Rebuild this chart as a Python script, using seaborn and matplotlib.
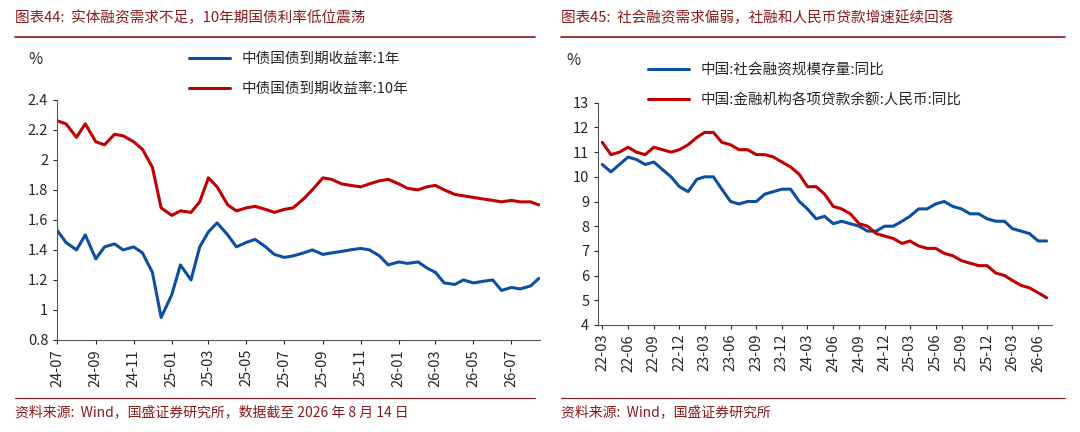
import matplotlib
matplotlib.use("Agg")
import matplotlib.pyplot as plt
import matplotlib.dates as mdates
import seaborn as sns
import pandas as pd

sns.set_style("white")
plt.rcParams["font.family"] = ["Noto Sans CJK SC", "DejaVu Sans"]
plt.rcParams["axes.unicode_minus"] = False

# ── DATA ─────────────────────────────────────────────────────────────────────
# left: semi-monthly readings, 2024-07-01 .. 2026-08-01, plus 2026-08-14
left_dates = list(pd.date_range("2024-07-01", "2026-08-01", freq="SMS")) + [pd.Timestamp("2026-08-14")]
y1 = [1.53, 1.45, 1.40, 1.50, 1.34, 1.42, 1.44, 1.40, 1.42, 1.38, 1.25, 0.95,
      1.10, 1.30, 1.20, 1.42, 1.52, 1.58, 1.50, 1.42, 1.45, 1.47, 1.42, 1.37,
      1.35, 1.36, 1.38, 1.40, 1.37, 1.38, 1.39, 1.40, 1.41, 1.40, 1.36, 1.30,
      1.32, 1.31, 1.32, 1.28, 1.25, 1.18, 1.17, 1.20, 1.18, 1.19, 1.20, 1.13,
      1.15, 1.14, 1.16, 1.21]
y10 = [2.26, 2.24, 2.15, 2.24, 2.12, 2.10, 2.17, 2.16, 2.12, 2.07, 1.95, 1.68,
       1.63, 1.66, 1.65, 1.72, 1.88, 1.82, 1.70, 1.66, 1.68, 1.69, 1.67, 1.65,
       1.67, 1.68, 1.74, 1.80, 1.88, 1.87, 1.84, 1.83, 1.82, 1.84, 1.86, 1.87,
       1.84, 1.81, 1.80, 1.82, 1.83, 1.80, 1.77, 1.76, 1.75, 1.74, 1.73, 1.72,
       1.73, 1.72, 1.72, 1.70]

# right: monthly 2022-03 .. 2026-07
right_dates = pd.date_range("2022-03-01", "2026-07-01", freq="MS")
tsf = [10.5, 10.2, 10.5, 10.8, 10.7, 10.5, 10.6, 10.3, 10.0, 9.6,
       9.4, 9.9, 10.0, 10.0, 9.5, 9.0, 8.9, 9.0, 9.0, 9.3, 9.4, 9.5,
       9.5, 9.0, 8.7, 8.3, 8.4, 8.1, 8.2, 8.1, 8.0, 7.8, 7.8, 8.0,
       8.0, 8.2, 8.4, 8.7, 8.7, 8.9, 9.0, 8.8, 8.7, 8.5, 8.5, 8.3,
       8.2, 8.2, 7.9, 7.8, 7.7, 7.4, 7.4]
loan = [11.4, 10.9, 11.0, 11.2, 11.0, 10.9, 11.2, 11.1, 11.0, 11.1,
        11.3, 11.6, 11.8, 11.8, 11.4, 11.3, 11.1, 11.1, 10.9, 10.9, 10.8, 10.6,
        10.4, 10.1, 9.6, 9.6, 9.3, 8.8, 8.7, 8.5, 8.1, 8.0, 7.7, 7.6,
        7.5, 7.3, 7.4, 7.2, 7.1, 7.1, 6.9, 6.8, 6.6, 6.5, 6.4, 6.4,
        6.1, 6.0, 5.8, 5.6, 5.5, 5.3, 5.1]

BLUE = "#0b4ea2"
RED = "#c00000"
TITLE_C = "#8b1a1a"

fig = plt.figure(figsize=(10.8, 4.32), dpi=100)

# titles, rules, sources
for x0, x1, title, src in [
    (0.014, 0.495, "图表44:  实体融资需求不足，10年期国债利率低位震荡", "资料来源:  Wind，国盛证券研究所，数据截至 2026 年 8 月 14 日"),
    (0.519, 0.986, "图表45:  社会融资需求偏弱，社融和人民币贷款增速延续回落", "资料来源:  Wind，国盛证券研究所"),
]:
    fig.text(x0, 0.96, title, color=TITLE_C, fontsize=10.5, style="italic", va="center")
    fig.add_artist(plt.Line2D([x0, x1], [0.915, 0.915], color=TITLE_C, lw=1.2))
    fig.add_artist(plt.Line2D([x0, x1], [0.078, 0.078], color=TITLE_C, lw=0.8))
    fig.text(x0, 0.045, src, color=TITLE_C, fontsize=10, style="italic", va="center")

# ── LEFT ─────────────────────────────────────────────────────────────────────
ax1 = fig.add_axes([0.053, 0.213, 0.447, 0.556])
df_l = pd.DataFrame({"date": left_dates, "y1": y1, "y10": y10})
sns.lineplot(data=df_l, x="date", y="y1", ax=ax1, color=BLUE, lw=2.2, label="中债国债到期收益率:1年")
sns.lineplot(data=df_l, x="date", y="y10", ax=ax1, color=RED, lw=2.2, label="中债国债到期收益率:10年")
ax1.set_ylim(0.8, 2.4)
ax1.set_yticks([0.8, 1, 1.2, 1.4, 1.6, 1.8, 2, 2.2, 2.4])
ax1.set_yticklabels(["0.8", "1", "1.2", "1.4", "1.6", "1.8", "2", "2.2", "2.4"])
ax1.set_xlim(pd.Timestamp("2024-07-01"), pd.Timestamp("2026-08-16"))
ax1.xaxis.set_major_locator(mdates.MonthLocator(bymonth=[1, 3, 5, 7, 9, 11]))
ax1.xaxis.set_major_formatter(mdates.DateFormatter("%y-%m"))
ax1.legend(loc="lower center", bbox_to_anchor=(0.5, 0.96), frameon=False, fontsize=10.5,
           handlelength=2.8, labelspacing=1.1)
ax1.text(-0.06, 1.15, "%", transform=ax1.transAxes, fontsize=11)

# ── RIGHT ────────────────────────────────────────────────────────────────────
ax2 = fig.add_axes([0.554, 0.248, 0.42, 0.514])
df_r = pd.DataFrame({"date": right_dates, "tsf": tsf, "loan": loan})
sns.lineplot(data=df_r, x="date", y="tsf", ax=ax2, color=BLUE, lw=2.2, label="中国:社会融资规模存量:同比")
sns.lineplot(data=df_r, x="date", y="loan", ax=ax2, color=RED, lw=2.2, label="中国:金融机构各项贷款余额:人民币:同比")
ax2.set_ylim(4, 13)
ax2.set_yticks(range(4, 14))
ax2.set_xlim(pd.Timestamp("2022-02-15"), pd.Timestamp("2026-07-20"))
ax2.xaxis.set_major_locator(mdates.MonthLocator(bymonth=[3, 6, 9, 12]))
ax2.xaxis.set_major_formatter(mdates.DateFormatter("%y-%m"))
ax2.legend(loc="lower left", bbox_to_anchor=(0.08, 0.92), frameon=False, fontsize=10.5,
           handlelength=2.8, labelspacing=1.1)
ax2.text(-0.07, 1.17, "%", transform=ax2.transAxes, fontsize=11)

for ax in (ax1, ax2):
    ax.set_xlabel("")
    ax.set_ylabel("")
    sns.despine(ax=ax)
    for s in ("left", "bottom"):
        ax.spines[s].set_color("#555555")
        ax.spines[s].set_linewidth(0.8)
    ax.tick_params(axis="x", rotation=90, labelsize=10.5, direction="out", length=3, bottom=True)
    ax.tick_params(axis="y", labelsize=10.5, direction="out", length=3, left=True)

fig.savefig("out.png", dpi=100)
